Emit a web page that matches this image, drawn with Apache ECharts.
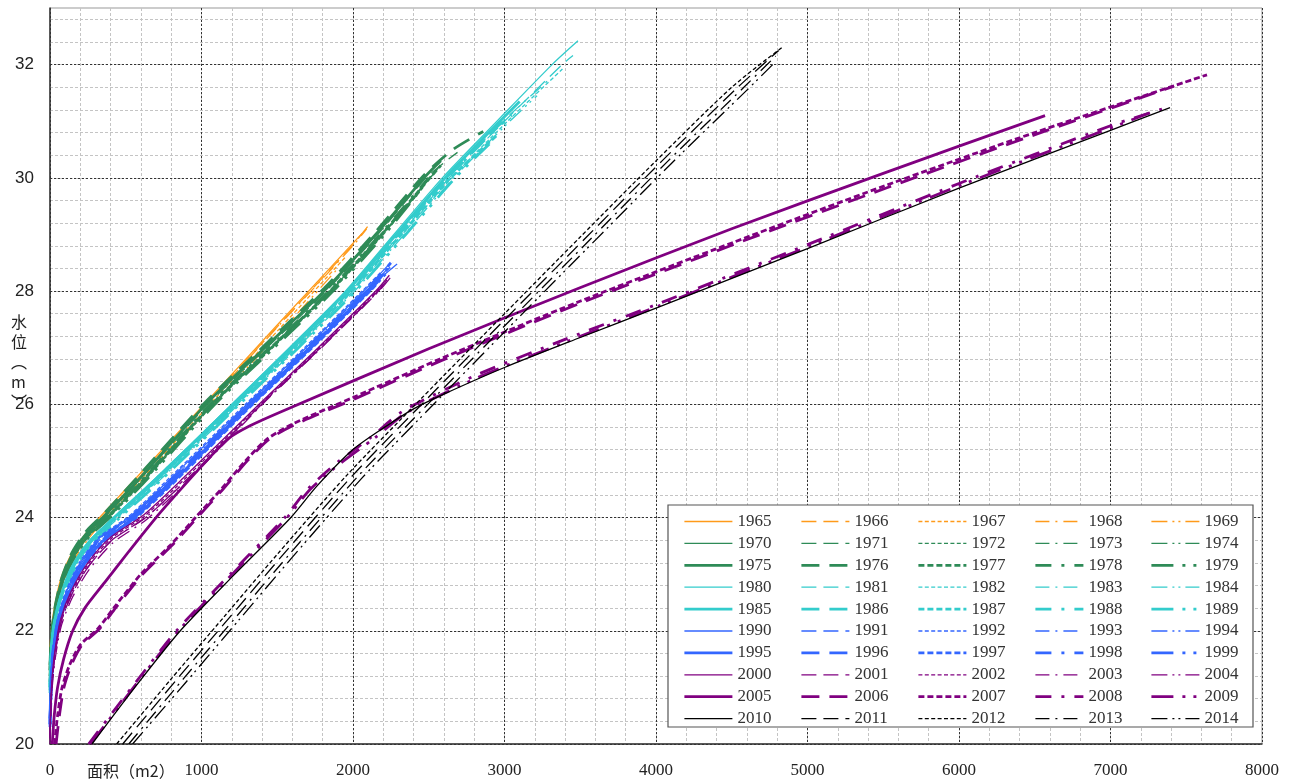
<!DOCTYPE html>
<html>
<head>
<meta charset="utf-8">
<script src="https://cdn.jsdelivr.net/npm/echarts@6/dist/echarts.min.js"></script>
<style>html,body{margin:0;padding:0;background:#fff;}#chart{width:1296px;height:783px;}</style>
</head>
<body>
<div id="chart"></div>
<script>
// ---- data: [area (m2), water level (m)] ----
const y1965 = [[0,21.7],[12,22.1],[35,22.5],[75,22.95],[140,23.35],[230,23.7],[320,23.98],[500,24.5],[1000,25.95],[1500,27.4],[2060,29.02]];
const y1966 = [[0,21.6],[12,22.0],[38,22.45],[80,22.9],[150,23.3],[250,23.7],[340,24.0],[520,24.5],[1000,25.92],[1500,27.37],[2000,28.82],[2100,29.15]];
const y1967 = [[0,21.5],[14,22.0],[40,22.4],[85,22.85],[160,23.3],[260,23.7],[360,24.0],[540,24.5],[1020,25.9],[1520,27.35],[1950,28.6]];
const y1968 = [[0,21.6],[13,22.05],[38,22.45],[80,22.9],[150,23.32],[245,23.7],[340,24.0],[520,24.5],[1010,25.93],[1500,27.36],[2000,28.8],[2090,29.1]];
const y1969 = [[0,21.4],[15,21.95],[42,22.4],[90,22.85],[165,23.28],[270,23.68],[370,23.98],[560,24.5],[1040,25.9],[1540,27.33],[1900,28.4]];

const y1970 = [[0,21.3],[10,21.85],[36,22.38],[82,22.88],[155,23.33],[260,23.72],[380,24.0],[630,24.7],[1070,26.0],[1460,27.0],[1850,28.0],[2190,29.0],[2510,30.0],[2570,30.2]];
const y1971 = [[0,21.4],[10,21.9],[35,22.4],[80,22.9],[150,23.35],[250,23.73],[365,24.02],[610,24.72],[1050,26.02],[1440,27.02],[1830,28.02],[2170,29.02],[2490,30.02],[2690,30.45]];
const y1972 = [[0,21.2],[11,21.8],[38,22.35],[85,22.85],[160,23.3],[265,23.7],[390,24.0],[640,24.7],[1080,26.0],[1470,27.0],[1860,28.0],[2200,29.0],[2470,29.85]];
const y1973 = [[0,21.35],[10,21.88],[36,22.4],[81,22.9],[152,23.34],[255,23.72],[375,24.01],[625,24.71],[1065,26.0],[1455,27.0],[1845,28.0],[2185,29.0],[2505,30.0],[2540,30.1]];
const y1974 = [[0,21.25],[11,21.82],[37,22.36],[84,22.86],[158,23.31],[262,23.7],[385,24.0],[635,24.7],[1075,26.0],[1465,27.0],[1855,28.0],[2195,29.0],[2440,29.75]];
const y1975 = [[0,21.3],[10,21.86],[35,22.4],[80,22.9],[150,23.36],[248,23.74],[360,24.03],[605,24.73],[1040,26.03],[1430,27.03],[1820,28.03],[2160,29.03],[2480,30.03],[2580,30.3]];
const y1976 = [[0,21.4],[9,21.92],[33,22.42],[76,22.92],[145,23.38],[240,23.76],[350,24.05],[590,24.75],[1030,26.05],[1420,27.05],[1810,28.05],[2150,29.05],[2470,30.05],[2660,30.5],[2860,30.82]];
const y1977 = [[0,21.2],[11,21.82],[37,22.37],[83,22.87],[156,23.32],[258,23.71],[378,24.0],[628,24.7],[1068,26.0],[1458,27.0],[1848,28.0],[2188,29.0],[2508,30.0],[2580,30.22]];
const y1978 = [[0,21.3],[10,21.85],[36,22.38],[82,22.88],[154,23.33],[256,23.72],[374,24.01],[622,24.71],[1062,26.01],[1452,27.01],[1842,28.01],[2182,29.01],[2500,30.0]];
const y1979 = [[0,21.1],[12,21.78],[39,22.33],[86,22.84],[162,23.3],[268,23.69],[392,23.99],[645,24.69],[1085,25.99],[1475,26.99],[1865,27.99],[2205,28.99],[2420,29.7]];

const y1980 = [[0,21.0],[8,21.6],[25,22.1],[70,22.6],[140,23.1],[250,23.55],[420,24.0],[700,24.7],[1200,26.0],[1580,27.0],[1950,28.0],[2270,29.0],[2590,30.0],[2950,31.0],[3314,32.0],[3485,32.42]];
const y1981 = [[0,20.9],[8,21.55],[26,22.05],[72,22.57],[145,23.07],[258,23.52],[432,23.98],[715,24.68],[1225,26.0],[1610,27.0],[1985,28.0],[2310,29.0],[2635,30.0],[3000,31.0],[3380,32.0],[3452,32.16]];
const y1982 = [[0,21.1],[9,21.6],[27,22.08],[74,22.58],[148,23.08],[262,23.53],[438,23.98],[722,24.68],[1235,26.0],[1622,27.0],[1998,28.0],[2325,29.0],[2652,30.0],[3020,31.0],[3386,31.93]];
const y1983 = [[0,20.95],[8,21.57],[26,22.07],[71,22.58],[143,23.08],[255,23.54],[428,23.99],[710,24.69],[1220,26.0],[1605,27.0],[1978,28.0],[2302,29.0],[2627,30.0],[2990,31.0],[3300,31.75]];
const y1984 = [[0,21.0],[9,21.58],[28,22.06],[75,22.56],[150,23.06],[265,23.51],[442,23.97],[728,24.67],[1245,26.0],[1632,27.0],[2010,28.0],[2338,29.0],[2665,30.0],[3035,31.0],[3215,31.45]];
const y1985 = [[0,21.0],[8,21.6],[25,22.1],[70,22.6],[141,23.1],[252,23.55],[424,24.0],[705,24.7],[1208,26.0],[1590,27.0],[1962,28.0],[2285,29.0],[2608,30.0],[2970,31.0],[3100,31.35]];
const y1986 = [[0,20.95],[8,21.58],[26,22.08],[72,22.58],[143,23.08],[255,23.53],[430,23.99],[712,24.69],[1218,26.0],[1600,27.0],[1975,28.0],[2298,29.0],[2622,30.0],[2950,30.9],[3050,31.1]];
const y1987 = [[0,21.05],[9,21.62],[27,22.1],[73,22.6],[146,23.1],[258,23.55],[434,24.0],[718,24.7],[1228,26.0],[1614,27.0],[1990,28.0],[2318,29.0],[2645,30.0],[2950,30.75]];
const y1988 = [[0,21.0],[8,21.6],[25,22.1],[70,22.6],[142,23.1],[253,23.55],[426,24.0],[707,24.7],[1212,26.0],[1595,27.0],[1968,28.0],[2292,29.0],[2615,30.0],[3000,31.0]];
const y1989 = [[0,20.9],[9,21.55],[28,22.05],[76,22.55],[152,23.05],[268,23.5],[446,23.96],[732,24.66],[1250,26.0],[1640,27.0],[2018,28.0],[2348,29.0],[2675,30.0],[2900,30.6]];

const y1990 = [[0,20.5],[8,21.2],[20,21.7],[50,22.2],[110,22.7],[200,23.2],[330,23.65],[520,24.0],[800,24.7],[1300,26.0],[1690,27.0],[2070,28.0],[2230,28.45]];
const y1991 = [[0,20.45],[8,21.18],[21,21.68],[52,22.18],[113,22.68],[205,23.18],[337,23.63],[530,23.99],[812,24.69],[1315,26.0],[1706,27.0],[2088,28.0],[2265,28.5]];
const y1992 = [[0,20.55],[8,21.22],[20,21.72],[49,22.22],[108,22.72],[197,23.22],[326,23.66],[514,24.01],[792,24.71],[1290,26.0],[1680,27.0],[2060,28.0],[2190,28.35]];
const y1993 = [[0,20.4],[9,21.15],[22,21.65],[53,22.15],[115,22.65],[208,23.15],[340,23.6],[535,23.97],[818,24.68],[1320,26.0],[1712,27.0],[2094,28.0],[2245,28.42]];
const y1994 = [[0,20.5],[8,21.2],[21,21.7],[51,22.2],[112,22.7],[203,23.2],[335,23.64],[526,23.99],[808,24.69],[1310,26.0],[1702,27.0],[2084,28.0],[2300,28.5]];
const y1995 = [[0,20.35],[9,21.1],[23,21.62],[55,22.12],[118,22.62],[212,23.12],[346,23.58],[542,23.96],[826,24.67],[1330,26.0],[1722,27.0],[2105,28.0],[2200,28.3]];
const y1996 = [[0,20.45],[8,21.18],[21,21.68],[52,22.18],[112,22.68],[204,23.18],[336,23.63],[528,23.99],[810,24.69],[1312,26.0],[1704,27.0],[2086,28.0],[2250,28.5]];
const y1997 = [[0,20.3],[10,21.05],[24,21.6],[57,22.1],[120,22.6],[215,23.1],[350,23.56],[548,23.95],[832,24.66],[1338,26.0],[1730,27.0],[2112,28.0],[2180,28.2]];
const y1998 = [[0,20.4],[9,21.12],[22,21.64],[54,22.14],[116,22.64],[210,23.14],[343,23.59],[538,23.97],[820,24.68],[1324,26.0],[1716,27.0],[2098,28.0],[2230,28.4]];
const y1999 = [[0,20.35],[9,21.1],[23,21.62],[55,22.12],[117,22.62],[211,23.12],[345,23.58],[540,23.96],[824,24.67],[1328,26.0],[1720,27.0],[2102,28.0],[2215,28.3]];

const y2000 = [[0,20.2],[10,21.0],[30,21.6],[70,22.2],[140,22.7],[250,23.2],[400,23.65],[620,24.05],[900,24.75],[1380,26.0],[1770,27.0],[2150,28.0],[2240,28.28]];
const y2001 = [[0,20.1],[11,20.95],[32,21.55],[73,22.15],[145,22.65],[258,23.15],[410,23.6],[632,24.0],[915,24.7],[1395,26.0],[1785,27.0],[2165,28.0],[2225,28.2]];
const y2002 = [[0,20.15],[10,20.98],[31,21.58],[71,22.18],[142,22.68],[254,23.18],[405,23.63],[626,24.03],[908,24.73],[1388,26.0],[1778,27.0],[2158,28.0],[2210,28.15]];
const y2003 = [[0,20.0],[12,20.9],[34,21.5],[76,22.1],[150,22.6],[264,23.1],[418,23.56],[640,23.97],[922,24.68],[1402,26.0],[1792,27.0],[2172,28.0],[2250,28.25]];
const y2004 = [[0,20.1],[11,20.95],[32,21.56],[74,22.16],[147,22.66],[260,23.16],[413,23.61],[635,24.01],[918,24.71],[1398,26.0],[1788,27.0],[2168,28.0],[2230,28.22]];
const y2005 = [[15,20.0],[28,20.5],[50,21.0],[90,21.5],[150,22.0],[230,22.4],[360,22.85],[520,23.4],[700,24.0],[880,24.55],[1050,25.05],[1180,25.4],[1320,25.62],[1518,25.86],[2500,26.98],[3498,28.06],[4500,29.1],[5500,30.08],[6568,31.1]];
const y2006 = [[40,20.0],[62,20.5],[92,21.0],[142,21.4],[212,21.75],[332,22.05],[432,22.4],[612,23.0],[802,23.5],[972,24.0],[1142,24.5],[1302,25.0],[1445,25.38],[1615,25.64],[2015,26.1],[2590,26.78],[3515,27.8],[4520,28.83],[5520,29.82],[6520,30.78],[7420,31.62]];
const y2007 = [[30,20.0],[50,20.5],[80,21.0],[130,21.4],[200,21.75],[320,22.05],[420,22.4],[600,23.0],[790,23.5],[960,24.0],[1130,24.5],[1290,25.0],[1430,25.38],[1600,25.65],[2000,26.12],[2574,26.8],[3498,27.82],[4500,28.85],[5500,29.85],[6500,30.8],[7637,31.82]];
const y2008 = [[255,20.0],[540,21.0],[835,22.0],[1190,23.0],[1550,24.0],[1700,24.5],[1900,24.98],[2120,25.42],[2330,25.88],[2800,26.5],[3412,27.16],[4000,27.76],[5000,28.82],[6000,29.9],[7000,30.92],[7346,31.22]];
const y2009 = [[268,20.0],[552,21.0],[848,22.0],[1203,23.0],[1565,24.0],[1718,24.5],[1918,24.96],[2140,25.4],[2352,25.85],[2822,26.47],[3432,27.13],[4020,27.74],[5020,28.8],[6020,29.88],[7020,30.9],[7260,31.15]];

const y2010 = [[277,20.0],[560,21.0],[860,22.0],[1220,23.0],[1590,24.0],[1760,24.55],[2000,25.2],[2200,25.58],[2400,25.92],[2600,26.18],[3000,26.65],[3500,27.18],[4000,27.7],[5000,28.75],[6000,29.82],[7000,30.84],[7393,31.24]];
const y2011 = [[480,20.0],[840,21.15],[1190,22.25],[1540,23.35],[2000,24.75],[2490,26.1],[3040,27.6],[3540,28.95],[4040,30.3],[4540,31.6],[4810,32.25]];
const y2012 = [[440,20.0],[800,21.15],[1150,22.25],[1500,23.35],[1960,24.75],[2450,26.1],[3000,27.6],[3498,28.95],[4000,30.3],[4500,31.6],[4830,32.3]];
const y2013 = [[520,20.0],[880,21.15],[1230,22.25],[1580,23.35],[2040,24.75],[2530,26.1],[3080,27.6],[3580,28.95],[4080,30.3],[4580,31.6],[4790,32.15]];
const y2014 = [[545,20.0],[900,21.1],[1250,22.2],[1600,23.3],[2060,24.7],[2550,26.05],[3100,27.55],[3600,28.9],[4100,30.25],[4600,31.55],[4770,32.0]];

const years = [1965,1966,1967,1968,1969,1970,1971,1972,1973,1974,1975,1976,1977,1978,1979,
  1980,1981,1982,1983,1984,1985,1986,1987,1988,1989,1990,1991,1992,1993,1994,1995,1996,1997,1998,1999,
  2000,2001,2002,2003,2004,2005,2006,2007,2008,2009,2010,2011,2012,2013,2014];
const seriesValues = [y1965,y1966,y1967,y1968,y1969,y1970,y1971,y1972,y1973,y1974,y1975,y1976,y1977,y1978,y1979,
  y1980,y1981,y1982,y1983,y1984,y1985,y1986,y1987,y1988,y1989,y1990,y1991,y1992,y1993,y1994,y1995,y1996,y1997,y1998,y1999,
  y2000,y2001,y2002,y2003,y2004,y2005,y2006,y2007,y2008,y2009,y2010,y2011,y2012,y2013,y2014];

const xTicks = [0,1000,2000,3000,4000,5000,6000,7000,8000];
const yTicks = [20,22,24,26,28,30,32];

// ---- styles ----
const groupColors = ['#FF9A1A', '#2E8B57', '#33CCCC', '#3366FF', '#800080', '#000000'];
const thinDash = ['solid', [15,7], [4,2.4], [14,6,2,6], [16,5,2,4,2,5]];
const thickDash = ['solid', [18,10], [6,3], [16,10,3,10], [22,9,3,8,3,9]];

function groupOf(y) { return y < 1970 ? 0 : Math.floor((y - 1970) / 10) + 1; }
function isThick(y) { return y >= 1970 && y < 2010 && (y % 10) >= 5; }

const series = years.map((yr, i) => {
  const thick = isThick(yr);
  const k = (yr - 1965) % 5;
  return {
    name: String(yr),
    type: 'line',
    data: seriesValues[i],
    xAxisIndex: 0, yAxisIndex: 0,
    symbol: 'none',
    smooth: 0.25,
    itemStyle: { color: groupColors[groupOf(yr)], opacity: 0 },
    lineStyle: { color: groupColors[groupOf(yr)], width: thick ? 2.8 : 1.3,
                 type: thick ? thickDash[k] : thinDash[k] },
    emphasis: { disabled: true },
    animation: false,
    z: 2
  };
});

const legendLefts = [683, 800, 917, 1034, 1150];
const legends = legendLefts.map((lx, k) => ({
  orient: 'vertical',
  left: lx, top: 513,
  padding: 0,
  itemWidth: 48, itemHeight: 14, itemGap: 4.9,
  selectedMode: false,
  data: years.filter(y => (y - 1965) % 5 === k).map(String),
  textStyle: { fontFamily: 'Liberation Serif', fontSize: 17, color: '#333' },
  itemStyle: { opacity: 0 },
  lineStyle: { width: 'inherit', type: 'inherit' },
  z: 5
}));

const chart = echarts.init(document.getElementById('chart'), null, { renderer: 'canvas' });
chart.setOption({
  backgroundColor: '#fff',
  animation: false,
  grid: { left: 50, right: 34, top: 8, bottom: 39, show: true, borderColor: '#999', borderWidth: 1 },
  xAxis: [
    { type: 'value', min: 0, max: 8000, interval: 200, position: 'bottom',
      axisLine: { show: false }, axisTick: { show: false }, axisLabel: { show: false },
      splitLine: { show: true, lineStyle: { color: '#c4c4c4', type: [3,2], width: 1 } }, z: 0 },
    { type: 'value', min: xTicks[0], max: xTicks[xTicks.length - 1], interval: xTicks[1] - xTicks[0], position: 'bottom',
      axisLine: { show: true, onZero: false, lineStyle: { color: '#333', width: 1.5 } },
      axisTick: { show: false },
      axisLabel: { show: true, margin: 18, fontFamily: 'Liberation Serif', fontSize: 17, color: '#222',
                   formatter: v => String(v) },
      splitLine: { show: true, lineStyle: { color: '#333', type: [2,2], width: 1 } }, z: 1 }
  ],
  yAxis: [
    { type: 'value', min: 20, max: 33, interval: 0.4, position: 'left',
      axisLine: { show: false }, axisTick: { show: false }, axisLabel: { show: false },
      splitLine: { show: true, showMaxLine: false, lineStyle: { color: '#c4c4c4', type: [3,2], width: 1 } }, z: 0 },
    { type: 'value', min: yTicks[0], max: 33, interval: yTicks[1] - yTicks[0], position: 'left',
      axisLine: { show: true, onZero: false, lineStyle: { color: '#333', width: 1.5 } },
      axisTick: { show: false },
      axisLabel: { show: true, margin: 16, showMaxLabel: false, fontFamily: 'Liberation Sans', fontSize: 17, color: '#222',
                   formatter: v => String(v) },
      splitLine: { show: true, showMaxLine: false, lineStyle: { color: '#333', type: [2,2], width: 1 } }, z: 1 }
  ],
  legend: legends,
  graphic: [
    { type: 'rect', shape: { x: 668, y: 505, width: 585, height: 222 },
      style: { fill: '#fff', stroke: '#555', lineWidth: 1.2 }, z: 4, silent: true },
    { type: 'text', left: 11, top: 312, z: 6, silent: true,
      style: { text: '水\n位\n︵\nm\n︶', fontFamily: 'Noto Sans CJK SC', fontSize: 16, lineHeight: 20, fill: '#222', align: 'center' } },
    { type: 'text', left: 87, top: 763, z: 6, silent: true,
      style: { text: '面积（m2）', fontFamily: 'Noto Sans CJK SC', fontSize: 16, fill: '#222' } }
  ],
  series: series
});
</script>
</body>
</html>
